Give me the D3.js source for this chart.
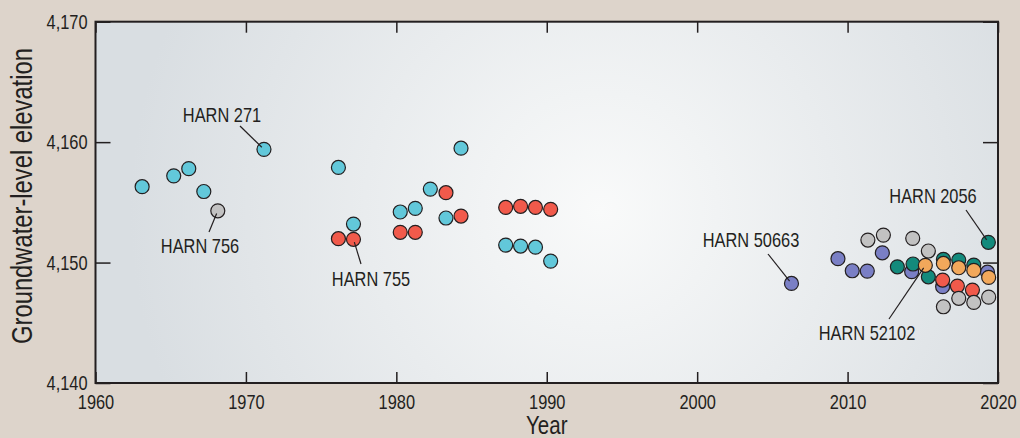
<!DOCTYPE html>
<html lang="en">
  <head>
    <meta charset="utf-8">
    <title>Groundwater-level elevation</title>
    <script src="https://cdn.jsdelivr.net/npm/d3@7"></script>
    <style>
      body { margin: 0; background: #ddd4cb; }
      svg text { font-family: "Liberation Sans", Arial, sans-serif; fill: #231f20; }
    </style>
  </head>
  <body>
    <script>
      // well groups, [year, elevation in feet]
      var cyanWells = [
        [1963.1, 4156.3], [1965.2, 4157.2], [1966.2, 4157.8], [1967.2, 4155.9],
        [1971.2, 4159.4], [1976.15, 4157.9], [1977.15, 4153.2], [1980.26, 4154.2],
        [1981.26, 4154.5], [1982.26, 4156.1], [1983.3, 4153.7], [1984.3, 4159.5],
        [1987.27, 4151.45], [1988.26, 4151.37], [1989.25, 4151.28], [1990.26, 4150.12]
      ];
      var redWells = [
        [1976.15, 4151.98], [1977.15, 4151.93], [1980.26, 4152.51], [1981.26, 4152.51],
        [1983.3, 4155.8], [1984.3, 4153.86], [1987.27, 4154.58], [1988.26, 4154.67],
        [1989.25, 4154.58], [1990.26, 4154.42], [2016.32, 4148.55], [2017.3, 4148.05],
        [2018.3, 4147.72]
      ];
      var grayWells = [
        [1968.13, 4154.3], [2011.35, 4151.87], [2012.38, 4152.28], [2014.33, 4152.01],
        [2015.37, 4150.96], [2016.37, 4146.33], [2017.39, 4147.03], [2018.39, 4146.69],
        [2019.38, 4147.13]
      ];
      var purpleWells = [
        [2006.27, 4148.27], [2009.36, 4150.32], [2010.31, 4149.32], [2011.31, 4149.29],
        [2012.31, 4150.81], [2014.26, 4149.24], [2016.32, 4148.0], [2019.3, 4149.2]
      ];
      var tealWells = [
        [2013.31, 4149.65], [2014.35, 4149.88], [2015.37, 4148.82], [2016.37, 4150.27],
        [2017.39, 4150.21], [2018.39, 4149.79], [2019.36, 4151.68]
      ];
      var orangeWells = [
        [2015.17, 4149.77], [2016.37, 4149.93], [2017.39, 4149.57], [2018.39, 4149.35],
        [2019.38, 4148.77]
      ];
      var xTicks = [1960, 1970, 1980, 1990, 2000, 2010, 2020];
      var yTicks = [4140, 4150, 4160, 4170];

      // labelled wells: text, the point it names, and where the label sits (px)
      var labels = [
        { text: "HARN 271",   pt: [1971.2, 4159.4],   tx: 222, ty: 122, lx: 240, ly: 126 },
        { text: "HARN 756",   pt: [1968.13, 4154.3],  tx: 200, ty: 253, lx: 209, ly: 232 },
        { text: "HARN 755",   pt: [1977.15, 4151.93], tx: 371, ty: 286, lx: 361, ly: 264 },
        { text: "HARN 50663", pt: [2006.27, 4148.27], tx: 751, ty: 247, lx: 768, ly: 254 },
        { text: "HARN 2056",  pt: [2019.36, 4151.68], tx: 933, ty: 203, lx: 966, ly: 210 },
        { text: "HARN 52102", pt: [2015.17, 4149.77], tx: 867, ty: 340, lx: 889, ly: 319 }
      ];

      var w = 1020, h = 438;
      var mLeft = 95.5, mRight = 998, mTop = 21.7, mBottom = 383;
      var narrow = 0.82;   // squeeze Liberation Sans to look like a condensed face

      var svg = d3.select("body").append("svg")
        .attr("width", w)
        .attr("height", h);

      var x = d3.scaleLinear().domain([1960, 2020]).range([mLeft, mRight]);
      var y = d3.scaleLinear().domain([4140, 4170]).range([mBottom, mTop]);

      // text placed at (tx, ty) and squeezed horizontally
      function narrowText(parent, tx, ty, size, str, rot) {
        return parent.append("text")
          .attr("transform", "translate(" + tx + "," + ty + ")" + (rot ? " rotate(" + rot + ")" : "") + " scale(" + narrow + ",1)")
          .attr("text-anchor", "middle")
          .attr("font-size", size)
          .text(str);
      }

      // soft radial background in the plot area
      var grad = svg.append("defs").append("radialGradient")
        .attr("id", "bg")
        .attr("gradientUnits", "userSpaceOnUse")
        .attr("cx", 600).attr("cy", 210).attr("r", 470);
      grad.append("stop").attr("offset", "0").attr("stop-color", "#f9fafa");
      grad.append("stop").attr("offset", "1").attr("stop-color", "#d9dee2");

      svg.append("rect")
        .attr("x", mLeft).attr("y", mTop)
        .attr("width", mRight - mLeft).attr("height", mBottom - mTop)
        .attr("fill", "url(#bg)");

      // ticks on all four sides, pointing in
      function styleAxis(g) {
        g.select(".domain").remove();
        g.selectAll(".tick line").attr("stroke", "#231f20").attr("stroke-width", 1.5);
      }

      svg.append("g")
        .attr("transform", "translate(0," + mBottom + ")")
        .call(d3.axisBottom(x).tickValues(xTicks).tickFormat(d3.format("d")).tickSize(-11))
        .call(styleAxis)
        .selectAll("text")
        .attr("y", 26).attr("dy", 0)
        .attr("transform", "scale(" + narrow + ",1)")
        .attr("font-size", 20);

      svg.append("g")
        .attr("transform", "translate(0," + mTop + ")")
        .call(d3.axisTop(x).tickValues(xTicks).tickFormat("").tickSize(-11))
        .call(styleAxis);

      svg.append("g")
        .attr("transform", "translate(" + mLeft + ",0)")
        .call(d3.axisLeft(y).tickValues(yTicks).tickFormat(d3.format(",")).tickSize(-15))
        .call(styleAxis)
        .selectAll("text")
        .attr("x", -8 / narrow).attr("dy", "0.33em")
        .attr("transform", "scale(" + narrow + ",1)")
        .attr("font-size", 20);

      svg.append("g")
        .attr("transform", "translate(" + mRight + ",0)")
        .call(d3.axisRight(y).tickValues(yTicks).tickFormat("").tickSize(-15))
        .call(styleAxis);

      svg.append("rect")
        .attr("x", mLeft).attr("y", mTop)
        .attr("width", mRight - mLeft).attr("height", mBottom - mTop)
        .attr("fill", "none")
        .attr("stroke", "#231f20")
        .attr("stroke-width", 2);

      // axis titles
      narrowText(svg, (mLeft + mRight) / 2, 434, 25, "Year");
      narrowText(svg, 32, 196, 29, "Groundwater-level elevation", -90);

      // points, back to front
      var groups = [
        { data: purpleWells, color: "#7a7fc5" },
        { data: tealWells,   color: "#138a7c" },
        { data: orangeWells, color: "#f2a85b" },
        { data: redWells,    color: "#f15a4b" },
        { data: grayWells,   color: "#c2c2c2" },
        { data: cyanWells,   color: "#62c8da" }
      ];

      groups.forEach(function(grp) {
        svg.append("g").selectAll("circle")
          .data(grp.data)
          .enter()
          .append("circle")
          .attr("cx", function(d) { return x(d[0]); })
          .attr("cy", function(d) { return y(d[1]); })
          .attr("r", 7)
          .attr("fill", grp.color)
          .attr("stroke", "#231f20")
          .attr("stroke-width", 1.2);
      });

      // labels with leader lines
      var ann = svg.append("g");
      labels.forEach(function(l) {
        var px = x(l.pt[0]), py = y(l.pt[1]);
        var dx = l.lx - px, dy = l.ly - py, len = Math.sqrt(dx * dx + dy * dy);
        ann.append("line")
          .attr("x1", l.lx).attr("y1", l.ly)
          .attr("x2", px + dx / len * 3).attr("y2", py + dy / len * 3)
          .attr("stroke", "#231f20")
          .attr("stroke-width", 1.2);
        narrowText(ann, l.tx, l.ty, 20, l.text);
      });
    </script>
  </body>
</html>
